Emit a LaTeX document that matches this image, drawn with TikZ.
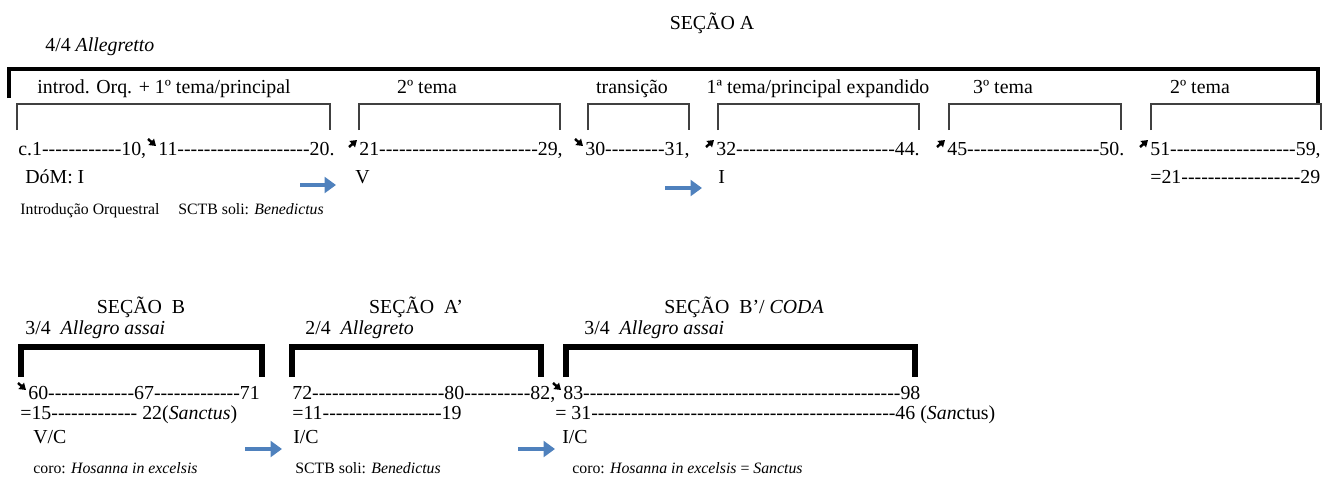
\documentclass[tikz,border=0pt]{standalone}
\usepackage{fontspec}
\setmainfont{Liberation Serif}[Ligatures=TeXOff]
\usetikzlibrary{arrows.meta}

\definecolor{flowblue}{RGB}{79,129,189}
\newcommand\bigtxt{\fontsize{11.3}{13}\selectfont}
\newcommand\smalltxt{\fontsize{9}{11}\selectfont}

\tikzset{
  lbl/.style={anchor=base west,inner sep=0pt,font=\bigtxt},
  ctr/.style={anchor=base,inner sep=0pt,font=\bigtxt},
  note/.style={anchor=base west,inner sep=0pt,font=\smalltxt},
  bracket/.style={draw=black!75,line width=0.6pt},
  topbar/.style={line width=2.8pt},
  secbar/.style={line width=3.7pt},
  turnmark/.style={line width=1.4pt,-{Triangle[length=3.6pt,width=4.6pt]}},
  flow/.style={draw=flowblue,line width=2.8pt,-{Triangle[length=6.5pt,width=9pt]}},
}

\begin{document}
\begin{tikzpicture}[x=0.02cm,y=-0.02cm]
  \useasboundingbox (0,0) rectangle (1325,478);

  % ---- section A ----
  \node[ctr] (titA) at (712,29) {SEÇÃO A};
  \node[lbl] (meterA) at (45,51) {4/4 \textit{Allegretto}};
  \draw[topbar] (9,98) -- (9,69) -- (1318,69) -- (1318,104);

  % parts of section A
  \foreach \n/\x/\t in {1/164/{introd. Orq. + 1º tema/principal},2/427/{2º tema},3/632/{transição},
                        4/818/{1ª tema/principal expandido},5/1003/{3º tema},6/1200/{2º tema}}
    \node[ctr] (part\n) at (\x,93) {\t};
  \foreach \a/\b in {17/330,359/560,588/689,718/919,949/1121,1151/1321}
    \draw[bracket] (\a,130) -- (\a,104) -- (\b,104) -- (\b,130);

  % bar numbers
  \node[lbl] (barA1) at (18,155) {c.1------------10,};
  \node[lbl] (barA2) at (158,155) {11--------------------20.};
  \node[lbl] (barA3) at (359,155) {21------------------------29,};
  \node[lbl] (barA4) at (585,155) {30---------31,};
  \node[lbl] (barA5) at (716,155) {32------------------------44.};
  \node[lbl] (barA6) at (947,155) {45--------------------50.};
  \node[lbl] (barA7) at (1150,155) {51-------------------59,};
  \draw[turnmark] ([shift={(-10,-16)}]barA2.base west) -- ++(8,7);
  \draw[turnmark] ([shift={(-10,-8)}]barA3.base west) -- ++(8,-7);
  \draw[turnmark] ([shift={(-10,-16)}]barA4.base west) -- ++(8,7);
  \foreach \n in {5,6,7}
    \draw[turnmark] ([shift={(-10,-8)}]barA\n.base west) -- ++(8,-7);

  % keys
  \node[lbl] (keyA1) at (25,183) {DóM: I};
  \node[lbl] (keyA2) at (355,183) {V};
  \node[lbl] (keyA3) at (718,183) {I};
  \node[lbl] (eqA) at (1150,183) {=21------------------29};
  \draw[flow] (300,185) -- (336,185);
  \draw[flow] (665,188) -- (702,188);

  \node[note] (noteA1) at (20,214) {Introdução Orquestral};
  \node[note] (noteA2) at (178,214) {SCTB soli: \textit{Benedictus}};

  % ---- sections B, A', B' ----
  \node[ctr] (titB) at (141,313) {SEÇÃO\ \ B};
  \node[ctr] (titA2) at (416,313) {SEÇÃO\ \ A’};
  \node[ctr] (titB2) at (744,313) {SEÇÃO\ \ B’/ \textit{CODA}};
  \node[lbl] (meterB) at (25,334) {3/4\ \ \textit{Allegro assai}};
  \node[lbl] (meterA2) at (305,334) {2/4\ \ \textit{Allegreto}};
  \node[lbl] (meterB2) at (584,334) {3/4\ \ \textit{Allegro assai}};
  \foreach \a/\b in {21/262,292/541,566/915}
    \draw[secbar] (\a,377) -- (\a,347) -- (\b,347) -- (\b,377);

  \node[lbl] (barB) at (28,399) {60-------------67-------------71};
  \node[lbl] (barA8) at (292,399) {72--------------------80----------82,};
  \node[lbl] (barB2) at (563,399) {83------------------------------------------------98};
  \draw[turnmark] ([shift={(-10,-16)}]barB.base west) -- ++(8,7);
  \draw[turnmark] ([shift={(-10,-16)}]barB2.base west) -- ++(8,7);

  \node[lbl] (eqB) at (20,419) {=15------------- 22(\textit{Sanctus})};
  \node[lbl] (eqA2) at (292,419) {=11------------------19};
  \node[lbl] (eqB2) at (555,419) {= 31----------------------------------------------46 (\textit{San}ctus)};

  \node[lbl] (keyB) at (33,443) {V/C};
  \node[lbl] (keyA4) at (293,443) {I/C};
  \node[lbl] (keyB2) at (562,443) {I/C};
  \draw[flow] (245,449) -- (282,449);
  \draw[flow] (518,449) -- (555,449);

  \node[note] (noteB) at (33,473) {coro: \textit{Hosanna in excelsis}};
  \node[note] (noteA3) at (295,473) {SCTB soli: \textit{Benedictus}};
  \node[note] (noteB2) at (572,473) {coro: \textit{Hosanna in excelsis} = \textit{Sanctus}};
\end{tikzpicture}
\end{document}
